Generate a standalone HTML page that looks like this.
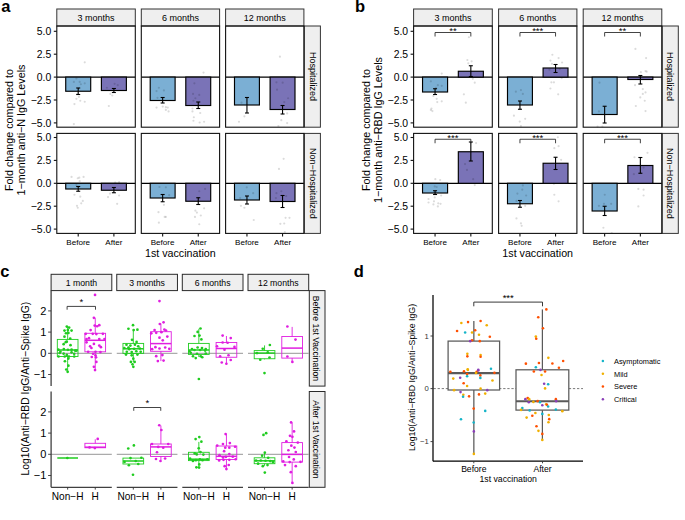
<!DOCTYPE html>
<html><head><meta charset="utf-8"><style>
html,body{margin:0;padding:0;background:#fff;width:685px;height:520px;overflow:hidden}
svg{display:block}
text{font-family:"Liberation Sans", sans-serif}
</style></head><body>
<svg width="685" height="520" viewBox="0 0 685 520">
<rect x="56.80" y="9.00" width="78.50" height="17.00" fill="#efefef" stroke="#333" stroke-width="1.0" />
<text x="96.05" y="21.00" font-size="9.0" text-anchor="middle" fill="#000" font-weight="normal" >3 months</text>
<rect x="141.30" y="9.00" width="78.30" height="17.00" fill="#efefef" stroke="#333" stroke-width="1.0" />
<text x="180.45" y="21.00" font-size="9.0" text-anchor="middle" fill="#000" font-weight="normal" >6 months</text>
<rect x="225.60" y="9.00" width="78.30" height="17.00" fill="#efefef" stroke="#333" stroke-width="1.0" />
<text x="264.75" y="21.00" font-size="9.0" text-anchor="middle" fill="#000" font-weight="normal" >12 months</text>
<rect x="304.30" y="26.00" width="16.10" height="101.20" fill="#efefef" stroke="#333" stroke-width="1.0" />
<text x="309.50" y="76.60" font-size="9.0" text-anchor="middle" fill="#000" font-weight="normal" transform="rotate(90 309.50 76.60)" >Hospitalized</text>
<rect x="304.30" y="133.40" width="16.10" height="100.00" fill="#efefef" stroke="#333" stroke-width="1.0" />
<text x="309.50" y="183.40" font-size="9.0" text-anchor="middle" fill="#000" font-weight="normal" transform="rotate(90 309.50 183.40)" >Non−Hospitalized</text>
<line x1="56.80" y1="77.10" x2="135.30" y2="77.10" stroke="#000" stroke-width="1.15" />
<rect x="65.72" y="77.10" width="24.98" height="14.15" fill="#7bafd4" stroke="#000" stroke-width="1.15" />
<rect x="101.40" y="77.10" width="24.98" height="13.40" fill="#7a73b7" stroke="#000" stroke-width="1.15" />
<circle cx="84.74" cy="62.31" r="1.1" fill="#000" fill-opacity="0.14"/>
<circle cx="73.86" cy="81.92" r="1.1" fill="#000" fill-opacity="0.14"/>
<circle cx="79.69" cy="81.92" r="1.1" fill="#000" fill-opacity="0.14"/>
<circle cx="84.74" cy="83.28" r="1.1" fill="#000" fill-opacity="0.14"/>
<circle cx="80.85" cy="84.25" r="1.1" fill="#000" fill-opacity="0.14"/>
<circle cx="77.36" cy="93.96" r="1.1" fill="#000" fill-opacity="0.14"/>
<circle cx="78.91" cy="96.87" r="1.1" fill="#000" fill-opacity="0.14"/>
<circle cx="76.39" cy="98.82" r="1.1" fill="#000" fill-opacity="0.14"/>
<circle cx="80.27" cy="100.76" r="1.1" fill="#000" fill-opacity="0.14"/>
<circle cx="84.74" cy="101.73" r="1.1" fill="#000" fill-opacity="0.14"/>
<circle cx="74.45" cy="104.06" r="1.1" fill="#000" fill-opacity="0.14"/>
<circle cx="73.86" cy="124.06" r="1.1" fill="#000" fill-opacity="0.14"/>
<circle cx="114.64" cy="83.86" r="1.1" fill="#000" fill-opacity="0.14"/>
<circle cx="117.75" cy="85.22" r="1.1" fill="#000" fill-opacity="0.14"/>
<circle cx="110.37" cy="93.96" r="1.1" fill="#000" fill-opacity="0.14"/>
<circle cx="112.31" cy="95.51" r="1.1" fill="#000" fill-opacity="0.14"/>
<circle cx="108.82" cy="106.00" r="1.1" fill="#000" fill-opacity="0.14"/>
<circle cx="106.87" cy="87.75" r="1.1" fill="#000" fill-opacity="0.14"/>
<circle cx="76.39" cy="78.43" r="1.1" fill="#000" fill-opacity="0.14"/>
<line x1="78.21" y1="88.00" x2="78.21" y2="94.50" stroke="#000" stroke-width="1.1" />
<line x1="76.21" y1="88.00" x2="80.21" y2="88.00" stroke="#000" stroke-width="1.1" />
<line x1="76.21" y1="94.50" x2="80.21" y2="94.50" stroke="#000" stroke-width="1.1" />
<line x1="113.89" y1="88.50" x2="113.89" y2="92.50" stroke="#000" stroke-width="1.1" />
<line x1="111.89" y1="88.50" x2="115.89" y2="88.50" stroke="#000" stroke-width="1.1" />
<line x1="111.89" y1="92.50" x2="115.89" y2="92.50" stroke="#000" stroke-width="1.1" />
<rect x="56.80" y="26.00" width="78.50" height="101.20" fill="none" stroke="#111111" stroke-width="1.1" />
<line x1="141.30" y1="77.10" x2="219.60" y2="77.10" stroke="#000" stroke-width="1.15" />
<rect x="150.20" y="77.10" width="24.91" height="23.40" fill="#7bafd4" stroke="#000" stroke-width="1.15" />
<rect x="185.79" y="77.10" width="24.91" height="28.40" fill="#7a73b7" stroke="#000" stroke-width="1.15" />
<circle cx="203.52" cy="72.60" r="1.1" fill="#000" fill-opacity="0.14"/>
<circle cx="158.86" cy="87.75" r="1.1" fill="#000" fill-opacity="0.14"/>
<circle cx="163.91" cy="90.47" r="1.1" fill="#000" fill-opacity="0.14"/>
<circle cx="156.53" cy="91.05" r="1.1" fill="#000" fill-opacity="0.14"/>
<circle cx="157.50" cy="97.84" r="1.1" fill="#000" fill-opacity="0.14"/>
<circle cx="156.53" cy="107.55" r="1.1" fill="#000" fill-opacity="0.14"/>
<circle cx="162.75" cy="106.58" r="1.1" fill="#000" fill-opacity="0.14"/>
<circle cx="165.85" cy="107.17" r="1.1" fill="#000" fill-opacity="0.14"/>
<circle cx="167.80" cy="107.55" r="1.1" fill="#000" fill-opacity="0.14"/>
<circle cx="165.85" cy="109.88" r="1.1" fill="#000" fill-opacity="0.14"/>
<circle cx="168.57" cy="111.44" r="1.1" fill="#000" fill-opacity="0.14"/>
<circle cx="194.40" cy="83.28" r="1.1" fill="#000" fill-opacity="0.14"/>
<circle cx="199.25" cy="94.93" r="1.1" fill="#000" fill-opacity="0.14"/>
<circle cx="193.04" cy="93.96" r="1.1" fill="#000" fill-opacity="0.14"/>
<circle cx="195.37" cy="98.23" r="1.1" fill="#000" fill-opacity="0.14"/>
<circle cx="193.43" cy="100.76" r="1.1" fill="#000" fill-opacity="0.14"/>
<circle cx="192.46" cy="108.52" r="1.1" fill="#000" fill-opacity="0.14"/>
<circle cx="200.22" cy="112.99" r="1.1" fill="#000" fill-opacity="0.14"/>
<circle cx="192.46" cy="111.44" r="1.1" fill="#000" fill-opacity="0.14"/>
<circle cx="193.82" cy="117.26" r="1.1" fill="#000" fill-opacity="0.14"/>
<circle cx="193.43" cy="120.76" r="1.1" fill="#000" fill-opacity="0.14"/>
<circle cx="199.64" cy="122.50" r="1.1" fill="#000" fill-opacity="0.14"/>
<circle cx="204.11" cy="121.73" r="1.1" fill="#000" fill-opacity="0.14"/>
<line x1="162.65" y1="97.50" x2="162.65" y2="103.00" stroke="#000" stroke-width="1.1" />
<line x1="160.65" y1="97.50" x2="164.65" y2="97.50" stroke="#000" stroke-width="1.1" />
<line x1="160.65" y1="103.00" x2="164.65" y2="103.00" stroke="#000" stroke-width="1.1" />
<line x1="198.25" y1="102.00" x2="198.25" y2="108.50" stroke="#000" stroke-width="1.1" />
<line x1="196.25" y1="102.00" x2="200.25" y2="102.00" stroke="#000" stroke-width="1.1" />
<line x1="196.25" y1="108.50" x2="200.25" y2="108.50" stroke="#000" stroke-width="1.1" />
<rect x="141.30" y="26.00" width="78.30" height="101.20" fill="none" stroke="#111111" stroke-width="1.1" />
<line x1="225.60" y1="77.10" x2="303.90" y2="77.10" stroke="#000" stroke-width="1.15" />
<rect x="234.50" y="77.10" width="24.91" height="27.90" fill="#7bafd4" stroke="#000" stroke-width="1.15" />
<rect x="270.09" y="77.10" width="24.91" height="32.40" fill="#7a73b7" stroke="#000" stroke-width="1.15" />
<circle cx="279.95" cy="56.68" r="1.1" fill="#000" fill-opacity="0.14"/>
<circle cx="241.50" cy="102.70" r="1.1" fill="#000" fill-opacity="0.14"/>
<circle cx="244.42" cy="116.29" r="1.1" fill="#000" fill-opacity="0.14"/>
<circle cx="238.98" cy="121.73" r="1.1" fill="#000" fill-opacity="0.14"/>
<circle cx="276.46" cy="82.31" r="1.1" fill="#000" fill-opacity="0.14"/>
<circle cx="282.67" cy="82.70" r="1.1" fill="#000" fill-opacity="0.14"/>
<circle cx="277.04" cy="89.69" r="1.1" fill="#000" fill-opacity="0.14"/>
<circle cx="288.11" cy="98.23" r="1.1" fill="#000" fill-opacity="0.14"/>
<circle cx="284.22" cy="102.12" r="1.1" fill="#000" fill-opacity="0.14"/>
<circle cx="287.14" cy="113.38" r="1.1" fill="#000" fill-opacity="0.14"/>
<circle cx="281.31" cy="120.17" r="1.1" fill="#000" fill-opacity="0.14"/>
<circle cx="287.14" cy="123.09" r="1.1" fill="#000" fill-opacity="0.14"/>
<circle cx="278.40" cy="126.00" r="1.1" fill="#000" fill-opacity="0.14"/>
<line x1="246.95" y1="97.50" x2="246.95" y2="113.00" stroke="#000" stroke-width="1.1" />
<line x1="244.95" y1="97.50" x2="248.95" y2="97.50" stroke="#000" stroke-width="1.1" />
<line x1="244.95" y1="113.00" x2="248.95" y2="113.00" stroke="#000" stroke-width="1.1" />
<line x1="282.55" y1="105.50" x2="282.55" y2="114.00" stroke="#000" stroke-width="1.1" />
<line x1="280.55" y1="105.50" x2="284.55" y2="105.50" stroke="#000" stroke-width="1.1" />
<line x1="280.55" y1="114.00" x2="284.55" y2="114.00" stroke="#000" stroke-width="1.1" />
<rect x="225.60" y="26.00" width="78.30" height="101.20" fill="none" stroke="#111111" stroke-width="1.1" />
<line x1="53.80" y1="31.30" x2="56.80" y2="31.30" stroke="#111111" stroke-width="1.1" />
<text x="51.30" y="35.00" font-size="10.4" text-anchor="end" fill="#000" font-weight="normal" >5.0</text>
<line x1="53.80" y1="54.20" x2="56.80" y2="54.20" stroke="#111111" stroke-width="1.1" />
<text x="51.30" y="57.90" font-size="10.4" text-anchor="end" fill="#000" font-weight="normal" >2.5</text>
<line x1="53.80" y1="77.10" x2="56.80" y2="77.10" stroke="#111111" stroke-width="1.1" />
<text x="51.30" y="80.80" font-size="10.4" text-anchor="end" fill="#000" font-weight="normal" >0.0</text>
<line x1="53.80" y1="100.00" x2="56.80" y2="100.00" stroke="#111111" stroke-width="1.1" />
<text x="51.30" y="103.70" font-size="10.4" text-anchor="end" fill="#000" font-weight="normal" >−2.5</text>
<line x1="53.80" y1="122.90" x2="56.80" y2="122.90" stroke="#111111" stroke-width="1.1" />
<text x="51.30" y="126.60" font-size="10.4" text-anchor="end" fill="#000" font-weight="normal" >−5.0</text>
<line x1="56.80" y1="183.30" x2="135.30" y2="183.30" stroke="#000" stroke-width="1.15" />
<rect x="65.72" y="183.30" width="24.98" height="5.70" fill="#7bafd4" stroke="#000" stroke-width="1.15" />
<rect x="101.40" y="183.30" width="24.98" height="6.95" fill="#7a73b7" stroke="#000" stroke-width="1.15" />
<circle cx="71.53" cy="176.88" r="1.1" fill="#000" fill-opacity="0.14"/>
<circle cx="79.30" cy="177.66" r="1.1" fill="#000" fill-opacity="0.14"/>
<circle cx="77.75" cy="178.24" r="1.1" fill="#000" fill-opacity="0.14"/>
<circle cx="83.57" cy="176.88" r="1.1" fill="#000" fill-opacity="0.14"/>
<circle cx="79.69" cy="181.16" r="1.1" fill="#000" fill-opacity="0.14"/>
<circle cx="74.45" cy="194.75" r="1.1" fill="#000" fill-opacity="0.14"/>
<circle cx="80.27" cy="196.69" r="1.1" fill="#000" fill-opacity="0.14"/>
<circle cx="82.80" cy="200.96" r="1.1" fill="#000" fill-opacity="0.14"/>
<circle cx="81.24" cy="203.29" r="1.1" fill="#000" fill-opacity="0.14"/>
<circle cx="76.97" cy="205.82" r="1.1" fill="#000" fill-opacity="0.14"/>
<circle cx="77.75" cy="207.76" r="1.1" fill="#000" fill-opacity="0.14"/>
<circle cx="76.39" cy="185.04" r="1.1" fill="#000" fill-opacity="0.14"/>
<circle cx="108.04" cy="197.08" r="1.1" fill="#000" fill-opacity="0.14"/>
<circle cx="109.98" cy="193.58" r="1.1" fill="#000" fill-opacity="0.14"/>
<circle cx="115.22" cy="182.51" r="1.1" fill="#000" fill-opacity="0.14"/>
<circle cx="119.11" cy="182.13" r="1.1" fill="#000" fill-opacity="0.14"/>
<circle cx="119.11" cy="195.52" r="1.1" fill="#000" fill-opacity="0.14"/>
<circle cx="117.17" cy="203.87" r="1.1" fill="#000" fill-opacity="0.14"/>
<line x1="78.21" y1="186.50" x2="78.21" y2="191.25" stroke="#000" stroke-width="1.1" />
<line x1="76.21" y1="186.50" x2="80.21" y2="186.50" stroke="#000" stroke-width="1.1" />
<line x1="76.21" y1="191.25" x2="80.21" y2="191.25" stroke="#000" stroke-width="1.1" />
<line x1="113.89" y1="187.50" x2="113.89" y2="192.75" stroke="#000" stroke-width="1.1" />
<line x1="111.89" y1="187.50" x2="115.89" y2="187.50" stroke="#000" stroke-width="1.1" />
<line x1="111.89" y1="192.75" x2="115.89" y2="192.75" stroke="#000" stroke-width="1.1" />
<rect x="56.80" y="133.40" width="78.50" height="100.00" fill="none" stroke="#111111" stroke-width="1.1" />
<line x1="141.30" y1="183.30" x2="219.60" y2="183.30" stroke="#000" stroke-width="1.15" />
<rect x="150.20" y="183.30" width="24.91" height="14.70" fill="#7bafd4" stroke="#000" stroke-width="1.15" />
<rect x="185.79" y="183.30" width="24.91" height="17.95" fill="#7a73b7" stroke="#000" stroke-width="1.15" />
<circle cx="163.91" cy="204.84" r="1.1" fill="#000" fill-opacity="0.14"/>
<circle cx="158.48" cy="212.22" r="1.1" fill="#000" fill-opacity="0.14"/>
<circle cx="164.69" cy="216.88" r="1.1" fill="#000" fill-opacity="0.14"/>
<circle cx="165.85" cy="216.88" r="1.1" fill="#000" fill-opacity="0.14"/>
<circle cx="158.86" cy="222.71" r="1.1" fill="#000" fill-opacity="0.14"/>
<circle cx="159.45" cy="186.98" r="1.1" fill="#000" fill-opacity="0.14"/>
<circle cx="165.85" cy="187.37" r="1.1" fill="#000" fill-opacity="0.14"/>
<circle cx="169.16" cy="195.14" r="1.1" fill="#000" fill-opacity="0.14"/>
<circle cx="195.37" cy="210.67" r="1.1" fill="#000" fill-opacity="0.14"/>
<circle cx="196.92" cy="212.61" r="1.1" fill="#000" fill-opacity="0.14"/>
<circle cx="200.81" cy="215.52" r="1.1" fill="#000" fill-opacity="0.14"/>
<circle cx="194.98" cy="216.88" r="1.1" fill="#000" fill-opacity="0.14"/>
<circle cx="204.11" cy="208.34" r="1.1" fill="#000" fill-opacity="0.14"/>
<circle cx="199.25" cy="224.26" r="1.1" fill="#000" fill-opacity="0.14"/>
<circle cx="199.25" cy="191.25" r="1.1" fill="#000" fill-opacity="0.14"/>
<circle cx="205.08" cy="188.92" r="1.1" fill="#000" fill-opacity="0.14"/>
<line x1="162.65" y1="194.50" x2="162.65" y2="201.75" stroke="#000" stroke-width="1.1" />
<line x1="160.65" y1="194.50" x2="164.65" y2="194.50" stroke="#000" stroke-width="1.1" />
<line x1="160.65" y1="201.75" x2="164.65" y2="201.75" stroke="#000" stroke-width="1.1" />
<line x1="198.25" y1="197.75" x2="198.25" y2="204.50" stroke="#000" stroke-width="1.1" />
<line x1="196.25" y1="197.75" x2="200.25" y2="197.75" stroke="#000" stroke-width="1.1" />
<line x1="196.25" y1="204.50" x2="200.25" y2="204.50" stroke="#000" stroke-width="1.1" />
<rect x="141.30" y="133.40" width="78.30" height="100.00" fill="none" stroke="#111111" stroke-width="1.1" />
<line x1="225.60" y1="183.30" x2="303.90" y2="183.30" stroke="#000" stroke-width="1.15" />
<rect x="234.50" y="183.30" width="24.91" height="16.70" fill="#7bafd4" stroke="#000" stroke-width="1.15" />
<rect x="270.09" y="183.30" width="24.91" height="18.20" fill="#7a73b7" stroke="#000" stroke-width="1.15" />
<circle cx="283.64" cy="158.83" r="1.1" fill="#000" fill-opacity="0.14"/>
<circle cx="278.98" cy="168.92" r="1.1" fill="#000" fill-opacity="0.14"/>
<circle cx="240.92" cy="205.82" r="1.1" fill="#000" fill-opacity="0.14"/>
<circle cx="244.42" cy="207.76" r="1.1" fill="#000" fill-opacity="0.14"/>
<circle cx="253.74" cy="219.99" r="1.1" fill="#000" fill-opacity="0.14"/>
<circle cx="246.75" cy="187.37" r="1.1" fill="#000" fill-opacity="0.14"/>
<circle cx="253.16" cy="193.19" r="1.1" fill="#000" fill-opacity="0.14"/>
<circle cx="240.15" cy="198.05" r="1.1" fill="#000" fill-opacity="0.14"/>
<circle cx="281.31" cy="191.25" r="1.1" fill="#000" fill-opacity="0.14"/>
<circle cx="276.46" cy="193.19" r="1.1" fill="#000" fill-opacity="0.14"/>
<circle cx="275.87" cy="198.05" r="1.1" fill="#000" fill-opacity="0.14"/>
<circle cx="286.17" cy="196.11" r="1.1" fill="#000" fill-opacity="0.14"/>
<circle cx="285.58" cy="217.85" r="1.1" fill="#000" fill-opacity="0.14"/>
<circle cx="289.47" cy="217.85" r="1.1" fill="#000" fill-opacity="0.14"/>
<circle cx="280.34" cy="223.87" r="1.1" fill="#000" fill-opacity="0.14"/>
<circle cx="284.22" cy="223.49" r="1.1" fill="#000" fill-opacity="0.14"/>
<circle cx="284.81" cy="232.03" r="1.1" fill="#000" fill-opacity="0.14"/>
<line x1="246.95" y1="196.00" x2="246.95" y2="204.00" stroke="#000" stroke-width="1.1" />
<line x1="244.95" y1="196.00" x2="248.95" y2="196.00" stroke="#000" stroke-width="1.1" />
<line x1="244.95" y1="204.00" x2="248.95" y2="204.00" stroke="#000" stroke-width="1.1" />
<line x1="282.55" y1="195.50" x2="282.55" y2="207.50" stroke="#000" stroke-width="1.1" />
<line x1="280.55" y1="195.50" x2="284.55" y2="195.50" stroke="#000" stroke-width="1.1" />
<line x1="280.55" y1="207.50" x2="284.55" y2="207.50" stroke="#000" stroke-width="1.1" />
<rect x="225.60" y="133.40" width="78.30" height="100.00" fill="none" stroke="#111111" stroke-width="1.1" />
<line x1="53.80" y1="137.50" x2="56.80" y2="137.50" stroke="#111111" stroke-width="1.1" />
<text x="51.30" y="141.20" font-size="10.4" text-anchor="end" fill="#000" font-weight="normal" >5.0</text>
<line x1="53.80" y1="160.40" x2="56.80" y2="160.40" stroke="#111111" stroke-width="1.1" />
<text x="51.30" y="164.10" font-size="10.4" text-anchor="end" fill="#000" font-weight="normal" >2.5</text>
<line x1="53.80" y1="183.30" x2="56.80" y2="183.30" stroke="#111111" stroke-width="1.1" />
<text x="51.30" y="187.00" font-size="10.4" text-anchor="end" fill="#000" font-weight="normal" >0.0</text>
<line x1="53.80" y1="206.20" x2="56.80" y2="206.20" stroke="#111111" stroke-width="1.1" />
<text x="51.30" y="209.90" font-size="10.4" text-anchor="end" fill="#000" font-weight="normal" >−2.5</text>
<line x1="53.80" y1="229.10" x2="56.80" y2="229.10" stroke="#111111" stroke-width="1.1" />
<text x="51.30" y="232.80" font-size="10.4" text-anchor="end" fill="#000" font-weight="normal" >−5.0</text>
<text x="78.21" y="245.00" font-size="8.1" text-anchor="middle" fill="#000" font-weight="normal" >Before</text>
<text x="113.89" y="245.00" font-size="8.1" text-anchor="middle" fill="#000" font-weight="normal" >After</text>
<line x1="78.21" y1="233.40" x2="78.21" y2="236.40" stroke="#111111" stroke-width="1.1" />
<line x1="113.89" y1="233.40" x2="113.89" y2="236.40" stroke="#111111" stroke-width="1.1" />
<text x="162.65" y="245.00" font-size="8.1" text-anchor="middle" fill="#000" font-weight="normal" >Before</text>
<text x="198.25" y="245.00" font-size="8.1" text-anchor="middle" fill="#000" font-weight="normal" >After</text>
<line x1="162.65" y1="233.40" x2="162.65" y2="236.40" stroke="#111111" stroke-width="1.1" />
<line x1="198.25" y1="233.40" x2="198.25" y2="236.40" stroke="#111111" stroke-width="1.1" />
<text x="246.95" y="245.00" font-size="8.1" text-anchor="middle" fill="#000" font-weight="normal" >Before</text>
<text x="282.55" y="245.00" font-size="8.1" text-anchor="middle" fill="#000" font-weight="normal" >After</text>
<line x1="246.95" y1="233.40" x2="246.95" y2="236.40" stroke="#111111" stroke-width="1.1" />
<line x1="282.55" y1="233.40" x2="282.55" y2="236.40" stroke="#111111" stroke-width="1.1" />
<text x="180.35" y="257.00" font-size="10.7" text-anchor="middle" fill="#000" font-weight="normal" >1st vaccination</text>
<text x="13.10" y="130.00" font-size="10.75" text-anchor="middle" fill="#000" font-weight="normal" transform="rotate(-90 13.10 130.00)" >Fold change compared to</text>
<text x="25.10" y="130.00" font-size="10.75" text-anchor="middle" fill="#000" font-weight="normal" transform="rotate(-90 25.10 130.00)" >1−month anti−N IgG Levels</text>
<rect x="413.60" y="9.00" width="78.70" height="17.00" fill="#efefef" stroke="#333" stroke-width="1.0" />
<text x="452.95" y="21.00" font-size="9.0" text-anchor="middle" fill="#000" font-weight="normal" >3 months</text>
<rect x="498.60" y="9.00" width="78.30" height="17.00" fill="#efefef" stroke="#333" stroke-width="1.0" />
<text x="537.75" y="21.00" font-size="9.0" text-anchor="middle" fill="#000" font-weight="normal" >6 months</text>
<rect x="583.20" y="9.00" width="78.60" height="17.00" fill="#efefef" stroke="#333" stroke-width="1.0" />
<text x="622.50" y="21.00" font-size="9.0" text-anchor="middle" fill="#000" font-weight="normal" >12 months</text>
<rect x="662.20" y="26.00" width="16.10" height="101.20" fill="#efefef" stroke="#333" stroke-width="1.0" />
<text x="667.40" y="76.60" font-size="9.0" text-anchor="middle" fill="#000" font-weight="normal" transform="rotate(90 667.40 76.60)" >Hospitalized</text>
<rect x="662.20" y="133.40" width="16.10" height="100.00" fill="#efefef" stroke="#333" stroke-width="1.0" />
<text x="667.40" y="183.40" font-size="9.0" text-anchor="middle" fill="#000" font-weight="normal" transform="rotate(90 667.40 183.40)" >Non−Hospitalized</text>
<line x1="413.60" y1="77.10" x2="492.30" y2="77.10" stroke="#000" stroke-width="1.15" />
<rect x="422.54" y="77.10" width="25.04" height="14.90" fill="#7bafd4" stroke="#000" stroke-width="1.15" />
<rect x="458.32" y="71.25" width="25.04" height="5.85" fill="#7a73b7" stroke="#000" stroke-width="1.15" />
<circle cx="468.92" cy="37.26" r="1.1" fill="#000" fill-opacity="0.14"/>
<circle cx="467.37" cy="59.98" r="1.1" fill="#000" fill-opacity="0.14"/>
<circle cx="471.64" cy="61.34" r="1.1" fill="#000" fill-opacity="0.14"/>
<circle cx="468.34" cy="63.28" r="1.1" fill="#000" fill-opacity="0.14"/>
<circle cx="441.74" cy="73.57" r="1.1" fill="#000" fill-opacity="0.14"/>
<circle cx="430.86" cy="81.34" r="1.1" fill="#000" fill-opacity="0.14"/>
<circle cx="437.85" cy="85.22" r="1.1" fill="#000" fill-opacity="0.14"/>
<circle cx="441.74" cy="85.81" r="1.1" fill="#000" fill-opacity="0.14"/>
<circle cx="435.91" cy="87.75" r="1.1" fill="#000" fill-opacity="0.14"/>
<circle cx="433.39" cy="95.90" r="1.1" fill="#000" fill-opacity="0.14"/>
<circle cx="436.69" cy="98.82" r="1.1" fill="#000" fill-opacity="0.14"/>
<circle cx="437.27" cy="102.12" r="1.1" fill="#000" fill-opacity="0.14"/>
<circle cx="441.74" cy="101.34" r="1.1" fill="#000" fill-opacity="0.14"/>
<circle cx="463.87" cy="94.35" r="1.1" fill="#000" fill-opacity="0.14"/>
<circle cx="465.82" cy="102.70" r="1.1" fill="#000" fill-opacity="0.14"/>
<circle cx="474.75" cy="82.70" r="1.1" fill="#000" fill-opacity="0.14"/>
<circle cx="472.81" cy="78.82" r="1.1" fill="#000" fill-opacity="0.14"/>
<circle cx="431.45" cy="108.52" r="1.1" fill="#000" fill-opacity="0.14"/>
<circle cx="432.42" cy="111.05" r="1.1" fill="#000" fill-opacity="0.14"/>
<circle cx="430.86" cy="109.88" r="1.1" fill="#000" fill-opacity="0.14"/>
<line x1="435.06" y1="88.75" x2="435.06" y2="94.50" stroke="#000" stroke-width="1.1" />
<line x1="433.06" y1="88.75" x2="437.06" y2="88.75" stroke="#000" stroke-width="1.1" />
<line x1="433.06" y1="94.50" x2="437.06" y2="94.50" stroke="#000" stroke-width="1.1" />
<line x1="470.84" y1="65.75" x2="470.84" y2="76.50" stroke="#000" stroke-width="1.1" />
<line x1="468.84" y1="65.75" x2="472.84" y2="65.75" stroke="#000" stroke-width="1.1" />
<line x1="468.84" y1="76.50" x2="472.84" y2="76.50" stroke="#000" stroke-width="1.1" />
<path d="M435.06,36.50V32.50H470.84V36.50" fill="none" stroke="#222" stroke-width="0.85"/>
<text x="452.95" y="34.20" font-size="9.6" text-anchor="middle" fill="#000" font-weight="normal" >**</text>
<rect x="413.60" y="26.00" width="78.70" height="101.20" fill="none" stroke="#111111" stroke-width="1.1" />
<line x1="498.60" y1="77.10" x2="576.90" y2="77.10" stroke="#000" stroke-width="1.15" />
<rect x="507.50" y="77.10" width="24.91" height="27.90" fill="#7bafd4" stroke="#000" stroke-width="1.15" />
<rect x="543.09" y="68.00" width="24.91" height="9.10" fill="#7a73b7" stroke="#000" stroke-width="1.15" />
<circle cx="552.37" cy="54.74" r="1.1" fill="#000" fill-opacity="0.14"/>
<circle cx="558.58" cy="58.04" r="1.1" fill="#000" fill-opacity="0.14"/>
<circle cx="550.43" cy="60.56" r="1.1" fill="#000" fill-opacity="0.14"/>
<circle cx="551.98" cy="63.86" r="1.1" fill="#000" fill-opacity="0.14"/>
<circle cx="562.08" cy="62.50" r="1.1" fill="#000" fill-opacity="0.14"/>
<circle cx="559.75" cy="69.11" r="1.1" fill="#000" fill-opacity="0.14"/>
<circle cx="549.46" cy="69.69" r="1.1" fill="#000" fill-opacity="0.14"/>
<circle cx="551.40" cy="82.31" r="1.1" fill="#000" fill-opacity="0.14"/>
<circle cx="553.92" cy="82.31" r="1.1" fill="#000" fill-opacity="0.14"/>
<circle cx="550.43" cy="88.52" r="1.1" fill="#000" fill-opacity="0.14"/>
<circle cx="558.19" cy="94.35" r="1.1" fill="#000" fill-opacity="0.14"/>
<circle cx="561.69" cy="78.04" r="1.1" fill="#000" fill-opacity="0.14"/>
<circle cx="515.86" cy="91.63" r="1.1" fill="#000" fill-opacity="0.14"/>
<circle cx="520.91" cy="90.08" r="1.1" fill="#000" fill-opacity="0.14"/>
<circle cx="522.85" cy="93.96" r="1.1" fill="#000" fill-opacity="0.14"/>
<circle cx="513.92" cy="115.71" r="1.1" fill="#000" fill-opacity="0.14"/>
<circle cx="525.18" cy="118.82" r="1.1" fill="#000" fill-opacity="0.14"/>
<circle cx="519.75" cy="121.53" r="1.1" fill="#000" fill-opacity="0.14"/>
<circle cx="520.91" cy="126.00" r="1.1" fill="#000" fill-opacity="0.14"/>
<line x1="519.95" y1="101.00" x2="519.95" y2="109.25" stroke="#000" stroke-width="1.1" />
<line x1="517.95" y1="101.00" x2="521.95" y2="101.00" stroke="#000" stroke-width="1.1" />
<line x1="517.95" y1="109.25" x2="521.95" y2="109.25" stroke="#000" stroke-width="1.1" />
<line x1="555.55" y1="64.50" x2="555.55" y2="72.50" stroke="#000" stroke-width="1.1" />
<line x1="553.55" y1="64.50" x2="557.55" y2="64.50" stroke="#000" stroke-width="1.1" />
<line x1="553.55" y1="72.50" x2="557.55" y2="72.50" stroke="#000" stroke-width="1.1" />
<path d="M519.95,36.50V32.50H555.55V36.50" fill="none" stroke="#222" stroke-width="0.85"/>
<text x="537.75" y="34.20" font-size="9.6" text-anchor="middle" fill="#000" font-weight="normal" >***</text>
<rect x="498.60" y="26.00" width="78.30" height="101.20" fill="none" stroke="#111111" stroke-width="1.1" />
<line x1="583.20" y1="77.10" x2="661.80" y2="77.10" stroke="#000" stroke-width="1.15" />
<rect x="592.13" y="77.10" width="25.01" height="37.40" fill="#7bafd4" stroke="#000" stroke-width="1.15" />
<rect x="627.86" y="77.10" width="25.01" height="2.40" fill="#7a73b7" stroke="#000" stroke-width="1.15" />
<circle cx="635.43" cy="48.91" r="1.1" fill="#000" fill-opacity="0.14"/>
<circle cx="646.11" cy="58.04" r="1.1" fill="#000" fill-opacity="0.14"/>
<circle cx="640.86" cy="72.21" r="1.1" fill="#000" fill-opacity="0.14"/>
<circle cx="645.52" cy="71.05" r="1.1" fill="#000" fill-opacity="0.14"/>
<circle cx="646.69" cy="71.63" r="1.1" fill="#000" fill-opacity="0.14"/>
<circle cx="635.04" cy="85.22" r="1.1" fill="#000" fill-opacity="0.14"/>
<circle cx="642.81" cy="89.11" r="1.1" fill="#000" fill-opacity="0.14"/>
<circle cx="645.52" cy="92.41" r="1.1" fill="#000" fill-opacity="0.14"/>
<circle cx="642.81" cy="93.96" r="1.1" fill="#000" fill-opacity="0.14"/>
<circle cx="640.28" cy="97.46" r="1.1" fill="#000" fill-opacity="0.14"/>
<circle cx="644.75" cy="100.76" r="1.1" fill="#000" fill-opacity="0.14"/>
<circle cx="635.82" cy="106.00" r="1.1" fill="#000" fill-opacity="0.14"/>
<circle cx="645.52" cy="111.05" r="1.1" fill="#000" fill-opacity="0.14"/>
<circle cx="599.50" cy="82.70" r="1.1" fill="#000" fill-opacity="0.14"/>
<circle cx="598.92" cy="111.44" r="1.1" fill="#000" fill-opacity="0.14"/>
<circle cx="597.56" cy="126.58" r="1.1" fill="#000" fill-opacity="0.14"/>
<circle cx="602.42" cy="126.58" r="1.1" fill="#000" fill-opacity="0.14"/>
<line x1="604.64" y1="106.25" x2="604.64" y2="123.00" stroke="#000" stroke-width="1.1" />
<line x1="602.64" y1="106.25" x2="606.64" y2="106.25" stroke="#000" stroke-width="1.1" />
<line x1="602.64" y1="123.00" x2="606.64" y2="123.00" stroke="#000" stroke-width="1.1" />
<line x1="640.36" y1="75.50" x2="640.36" y2="84.00" stroke="#000" stroke-width="1.1" />
<line x1="638.36" y1="75.50" x2="642.36" y2="75.50" stroke="#000" stroke-width="1.1" />
<line x1="638.36" y1="84.00" x2="642.36" y2="84.00" stroke="#000" stroke-width="1.1" />
<path d="M604.64,36.50V32.50H640.36V36.50" fill="none" stroke="#222" stroke-width="0.85"/>
<text x="622.50" y="34.20" font-size="9.6" text-anchor="middle" fill="#000" font-weight="normal" >**</text>
<rect x="583.20" y="26.00" width="78.60" height="101.20" fill="none" stroke="#111111" stroke-width="1.1" />
<line x1="410.60" y1="31.30" x2="413.60" y2="31.30" stroke="#111111" stroke-width="1.1" />
<text x="408.10" y="35.00" font-size="10.4" text-anchor="end" fill="#000" font-weight="normal" >5.0</text>
<line x1="410.60" y1="54.20" x2="413.60" y2="54.20" stroke="#111111" stroke-width="1.1" />
<text x="408.10" y="57.90" font-size="10.4" text-anchor="end" fill="#000" font-weight="normal" >2.5</text>
<line x1="410.60" y1="77.10" x2="413.60" y2="77.10" stroke="#111111" stroke-width="1.1" />
<text x="408.10" y="80.80" font-size="10.4" text-anchor="end" fill="#000" font-weight="normal" >0.0</text>
<line x1="410.60" y1="100.00" x2="413.60" y2="100.00" stroke="#111111" stroke-width="1.1" />
<text x="408.10" y="103.70" font-size="10.4" text-anchor="end" fill="#000" font-weight="normal" >−2.5</text>
<line x1="410.60" y1="122.90" x2="413.60" y2="122.90" stroke="#111111" stroke-width="1.1" />
<text x="408.10" y="126.60" font-size="10.4" text-anchor="end" fill="#000" font-weight="normal" >−5.0</text>
<line x1="413.60" y1="183.30" x2="492.30" y2="183.30" stroke="#000" stroke-width="1.15" />
<rect x="422.54" y="183.30" width="25.04" height="9.70" fill="#7bafd4" stroke="#000" stroke-width="1.15" />
<rect x="458.32" y="151.75" width="25.04" height="31.55" fill="#7a73b7" stroke="#000" stroke-width="1.15" />
<circle cx="435.33" cy="179.21" r="1.1" fill="#000" fill-opacity="0.14"/>
<circle cx="440.18" cy="179.99" r="1.1" fill="#000" fill-opacity="0.14"/>
<circle cx="476.11" cy="143.10" r="1.1" fill="#000" fill-opacity="0.14"/>
<circle cx="465.04" cy="164.07" r="1.1" fill="#000" fill-opacity="0.14"/>
<circle cx="466.98" cy="169.89" r="1.1" fill="#000" fill-opacity="0.14"/>
<circle cx="473.19" cy="179.21" r="1.1" fill="#000" fill-opacity="0.14"/>
<circle cx="474.75" cy="185.04" r="1.1" fill="#000" fill-opacity="0.14"/>
<circle cx="434.75" cy="186.40" r="1.1" fill="#000" fill-opacity="0.14"/>
<circle cx="436.69" cy="186.98" r="1.1" fill="#000" fill-opacity="0.14"/>
<circle cx="441.16" cy="195.52" r="1.1" fill="#000" fill-opacity="0.14"/>
<circle cx="434.75" cy="197.47" r="1.1" fill="#000" fill-opacity="0.14"/>
<circle cx="428.53" cy="199.02" r="1.1" fill="#000" fill-opacity="0.14"/>
<circle cx="433.97" cy="201.35" r="1.1" fill="#000" fill-opacity="0.14"/>
<circle cx="428.53" cy="202.51" r="1.1" fill="#000" fill-opacity="0.14"/>
<circle cx="433.39" cy="204.46" r="1.1" fill="#000" fill-opacity="0.14"/>
<circle cx="438.24" cy="203.29" r="1.1" fill="#000" fill-opacity="0.14"/>
<circle cx="440.57" cy="203.87" r="1.1" fill="#000" fill-opacity="0.14"/>
<circle cx="437.85" cy="206.40" r="1.1" fill="#000" fill-opacity="0.14"/>
<line x1="435.06" y1="190.75" x2="435.06" y2="194.50" stroke="#000" stroke-width="1.1" />
<line x1="433.06" y1="190.75" x2="437.06" y2="190.75" stroke="#000" stroke-width="1.1" />
<line x1="433.06" y1="194.50" x2="437.06" y2="194.50" stroke="#000" stroke-width="1.1" />
<line x1="470.84" y1="142.00" x2="470.84" y2="161.00" stroke="#000" stroke-width="1.1" />
<line x1="468.84" y1="142.00" x2="472.84" y2="142.00" stroke="#000" stroke-width="1.1" />
<line x1="468.84" y1="161.00" x2="472.84" y2="161.00" stroke="#000" stroke-width="1.1" />
<path d="M435.06,143.25V139.25H470.84V143.25" fill="none" stroke="#222" stroke-width="0.85"/>
<text x="452.95" y="140.95" font-size="9.6" text-anchor="middle" fill="#000" font-weight="normal" >***</text>
<rect x="413.60" y="133.40" width="78.70" height="100.00" fill="none" stroke="#111111" stroke-width="1.1" />
<line x1="498.60" y1="183.30" x2="576.90" y2="183.30" stroke="#000" stroke-width="1.15" />
<rect x="507.50" y="183.30" width="24.91" height="20.45" fill="#7bafd4" stroke="#000" stroke-width="1.15" />
<rect x="543.09" y="163.25" width="24.91" height="20.05" fill="#7a73b7" stroke="#000" stroke-width="1.15" />
<circle cx="557.81" cy="137.27" r="1.1" fill="#000" fill-opacity="0.14"/>
<circle cx="558.58" cy="146.20" r="1.1" fill="#000" fill-opacity="0.14"/>
<circle cx="554.31" cy="148.15" r="1.1" fill="#000" fill-opacity="0.14"/>
<circle cx="561.11" cy="159.80" r="1.1" fill="#000" fill-opacity="0.14"/>
<circle cx="553.92" cy="183.87" r="1.1" fill="#000" fill-opacity="0.14"/>
<circle cx="554.31" cy="194.75" r="1.1" fill="#000" fill-opacity="0.14"/>
<circle cx="558.58" cy="201.35" r="1.1" fill="#000" fill-opacity="0.14"/>
<circle cx="522.85" cy="185.43" r="1.1" fill="#000" fill-opacity="0.14"/>
<circle cx="522.27" cy="189.70" r="1.1" fill="#000" fill-opacity="0.14"/>
<circle cx="517.42" cy="193.58" r="1.1" fill="#000" fill-opacity="0.14"/>
<circle cx="526.16" cy="195.52" r="1.1" fill="#000" fill-opacity="0.14"/>
<circle cx="516.45" cy="200.96" r="1.1" fill="#000" fill-opacity="0.14"/>
<circle cx="525.18" cy="205.82" r="1.1" fill="#000" fill-opacity="0.14"/>
<circle cx="516.45" cy="218.44" r="1.1" fill="#000" fill-opacity="0.14"/>
<circle cx="520.91" cy="223.29" r="1.1" fill="#000" fill-opacity="0.14"/>
<circle cx="521.69" cy="225.82" r="1.1" fill="#000" fill-opacity="0.14"/>
<line x1="519.95" y1="200.50" x2="519.95" y2="207.25" stroke="#000" stroke-width="1.1" />
<line x1="517.95" y1="200.50" x2="521.95" y2="200.50" stroke="#000" stroke-width="1.1" />
<line x1="517.95" y1="207.25" x2="521.95" y2="207.25" stroke="#000" stroke-width="1.1" />
<line x1="555.55" y1="157.25" x2="555.55" y2="169.50" stroke="#000" stroke-width="1.1" />
<line x1="553.55" y1="157.25" x2="557.55" y2="157.25" stroke="#000" stroke-width="1.1" />
<line x1="553.55" y1="169.50" x2="557.55" y2="169.50" stroke="#000" stroke-width="1.1" />
<path d="M519.95,143.25V139.25H555.55V143.25" fill="none" stroke="#222" stroke-width="0.85"/>
<text x="537.75" y="140.95" font-size="9.6" text-anchor="middle" fill="#000" font-weight="normal" >***</text>
<rect x="498.60" y="133.40" width="78.30" height="100.00" fill="none" stroke="#111111" stroke-width="1.1" />
<line x1="583.20" y1="183.30" x2="661.80" y2="183.30" stroke="#000" stroke-width="1.15" />
<rect x="592.13" y="183.30" width="25.01" height="27.70" fill="#7bafd4" stroke="#000" stroke-width="1.15" />
<rect x="627.86" y="165.50" width="25.01" height="17.80" fill="#7a73b7" stroke="#000" stroke-width="1.15" />
<circle cx="647.47" cy="152.81" r="1.1" fill="#000" fill-opacity="0.14"/>
<circle cx="634.46" cy="157.27" r="1.1" fill="#000" fill-opacity="0.14"/>
<circle cx="643.58" cy="167.56" r="1.1" fill="#000" fill-opacity="0.14"/>
<circle cx="633.87" cy="174.17" r="1.1" fill="#000" fill-opacity="0.14"/>
<circle cx="638.34" cy="188.92" r="1.1" fill="#000" fill-opacity="0.14"/>
<circle cx="643.58" cy="189.70" r="1.1" fill="#000" fill-opacity="0.14"/>
<circle cx="643.58" cy="195.52" r="1.1" fill="#000" fill-opacity="0.14"/>
<circle cx="638.34" cy="206.40" r="1.1" fill="#000" fill-opacity="0.14"/>
<circle cx="604.75" cy="194.75" r="1.1" fill="#000" fill-opacity="0.14"/>
<circle cx="598.92" cy="205.82" r="1.1" fill="#000" fill-opacity="0.14"/>
<circle cx="603.97" cy="203.87" r="1.1" fill="#000" fill-opacity="0.14"/>
<circle cx="611.16" cy="203.87" r="1.1" fill="#000" fill-opacity="0.14"/>
<circle cx="603.39" cy="227.76" r="1.1" fill="#000" fill-opacity="0.14"/>
<circle cx="611.74" cy="233.00" r="1.1" fill="#000" fill-opacity="0.14"/>
<line x1="604.64" y1="206.25" x2="604.64" y2="215.50" stroke="#000" stroke-width="1.1" />
<line x1="602.64" y1="206.25" x2="606.64" y2="206.25" stroke="#000" stroke-width="1.1" />
<line x1="602.64" y1="215.50" x2="606.64" y2="215.50" stroke="#000" stroke-width="1.1" />
<line x1="640.36" y1="157.50" x2="640.36" y2="173.25" stroke="#000" stroke-width="1.1" />
<line x1="638.36" y1="157.50" x2="642.36" y2="157.50" stroke="#000" stroke-width="1.1" />
<line x1="638.36" y1="173.25" x2="642.36" y2="173.25" stroke="#000" stroke-width="1.1" />
<path d="M604.64,143.25V139.25H640.36V143.25" fill="none" stroke="#222" stroke-width="0.85"/>
<text x="622.50" y="140.95" font-size="9.6" text-anchor="middle" fill="#000" font-weight="normal" >***</text>
<rect x="583.20" y="133.40" width="78.60" height="100.00" fill="none" stroke="#111111" stroke-width="1.1" />
<line x1="410.60" y1="137.50" x2="413.60" y2="137.50" stroke="#111111" stroke-width="1.1" />
<text x="408.10" y="141.20" font-size="10.4" text-anchor="end" fill="#000" font-weight="normal" >5.0</text>
<line x1="410.60" y1="160.40" x2="413.60" y2="160.40" stroke="#111111" stroke-width="1.1" />
<text x="408.10" y="164.10" font-size="10.4" text-anchor="end" fill="#000" font-weight="normal" >2.5</text>
<line x1="410.60" y1="183.30" x2="413.60" y2="183.30" stroke="#111111" stroke-width="1.1" />
<text x="408.10" y="187.00" font-size="10.4" text-anchor="end" fill="#000" font-weight="normal" >0.0</text>
<line x1="410.60" y1="206.20" x2="413.60" y2="206.20" stroke="#111111" stroke-width="1.1" />
<text x="408.10" y="209.90" font-size="10.4" text-anchor="end" fill="#000" font-weight="normal" >−2.5</text>
<line x1="410.60" y1="229.10" x2="413.60" y2="229.10" stroke="#111111" stroke-width="1.1" />
<text x="408.10" y="232.80" font-size="10.4" text-anchor="end" fill="#000" font-weight="normal" >−5.0</text>
<text x="435.06" y="245.00" font-size="8.1" text-anchor="middle" fill="#000" font-weight="normal" >Before</text>
<text x="470.84" y="245.00" font-size="8.1" text-anchor="middle" fill="#000" font-weight="normal" >After</text>
<line x1="435.06" y1="233.40" x2="435.06" y2="236.40" stroke="#111111" stroke-width="1.1" />
<line x1="470.84" y1="233.40" x2="470.84" y2="236.40" stroke="#111111" stroke-width="1.1" />
<text x="519.95" y="245.00" font-size="8.1" text-anchor="middle" fill="#000" font-weight="normal" >Before</text>
<text x="555.55" y="245.00" font-size="8.1" text-anchor="middle" fill="#000" font-weight="normal" >After</text>
<line x1="519.95" y1="233.40" x2="519.95" y2="236.40" stroke="#111111" stroke-width="1.1" />
<line x1="555.55" y1="233.40" x2="555.55" y2="236.40" stroke="#111111" stroke-width="1.1" />
<text x="604.64" y="245.00" font-size="8.1" text-anchor="middle" fill="#000" font-weight="normal" >Before</text>
<text x="640.36" y="245.00" font-size="8.1" text-anchor="middle" fill="#000" font-weight="normal" >After</text>
<line x1="604.64" y1="233.40" x2="604.64" y2="236.40" stroke="#111111" stroke-width="1.1" />
<line x1="640.36" y1="233.40" x2="640.36" y2="236.40" stroke="#111111" stroke-width="1.1" />
<text x="537.70" y="257.00" font-size="10.7" text-anchor="middle" fill="#000" font-weight="normal" >1st vaccination</text>
<text x="370.10" y="130.00" font-size="10.75" text-anchor="middle" fill="#000" font-weight="normal" transform="rotate(-90 370.10 130.00)" >Fold change compared to</text>
<text x="382.10" y="130.00" font-size="10.75" text-anchor="middle" fill="#000" font-weight="normal" transform="rotate(-90 382.10 130.00)" >1−month anti−RBD IgG Levels</text>
<rect x="51.10" y="274.30" width="60.70" height="16.30" fill="#efefef" stroke="#2a2a2a" stroke-width="1.0" />
<text x="81.45" y="285.80" font-size="8.7" text-anchor="middle" fill="#000" font-weight="normal" >1 month</text>
<rect x="116.75" y="274.30" width="60.70" height="16.30" fill="#efefef" stroke="#2a2a2a" stroke-width="1.0" />
<text x="147.10" y="285.80" font-size="8.7" text-anchor="middle" fill="#000" font-weight="normal" >3 months</text>
<rect x="182.30" y="274.30" width="60.70" height="16.30" fill="#efefef" stroke="#2a2a2a" stroke-width="1.0" />
<text x="212.65" y="285.80" font-size="8.7" text-anchor="middle" fill="#000" font-weight="normal" >6 months</text>
<rect x="248.00" y="274.30" width="60.70" height="16.30" fill="#efefef" stroke="#2a2a2a" stroke-width="1.0" />
<text x="278.35" y="285.80" font-size="8.7" text-anchor="middle" fill="#000" font-weight="normal" >12 months</text>
<rect x="309.30" y="290.60" width="15.70" height="95.50" fill="#efefef" stroke="#2a2a2a" stroke-width="1.0" />
<text x="312.90" y="338.35" font-size="8.6" text-anchor="middle" fill="#000" font-weight="normal" transform="rotate(90 312.90 338.35)" >Before 1st Vaccination</text>
<rect x="309.30" y="391.50" width="15.70" height="95.80" fill="#efefef" stroke="#2a2a2a" stroke-width="1.0" />
<text x="312.90" y="439.40" font-size="8.6" text-anchor="middle" fill="#000" font-weight="normal" transform="rotate(90 312.90 439.40)" >After 1st Vaccination</text>
<line x1="51.10" y1="353.30" x2="111.80" y2="353.30" stroke="#8a8a8a" stroke-width="0.9" />
<line x1="116.75" y1="353.30" x2="177.45" y2="353.30" stroke="#8a8a8a" stroke-width="0.9" />
<line x1="182.30" y1="353.30" x2="243.00" y2="353.30" stroke="#8a8a8a" stroke-width="0.9" />
<line x1="248.00" y1="353.30" x2="308.70" y2="353.30" stroke="#8a8a8a" stroke-width="0.9" />
<line x1="51.10" y1="290.60" x2="51.10" y2="386.10" stroke="#404040" stroke-width="1.3" />
<line x1="48.10" y1="310.90" x2="51.10" y2="310.90" stroke="#333" stroke-width="0.9" />
<text x="46.30" y="314.80" font-size="11.0" text-anchor="end" fill="#000" font-weight="normal" >2</text>
<line x1="48.10" y1="332.10" x2="51.10" y2="332.10" stroke="#333" stroke-width="0.9" />
<text x="46.30" y="336.00" font-size="11.0" text-anchor="end" fill="#000" font-weight="normal" >1</text>
<line x1="48.10" y1="353.30" x2="51.10" y2="353.30" stroke="#333" stroke-width="0.9" />
<text x="46.30" y="357.20" font-size="11.0" text-anchor="end" fill="#000" font-weight="normal" >0</text>
<line x1="48.10" y1="374.50" x2="51.10" y2="374.50" stroke="#333" stroke-width="0.9" />
<text x="46.30" y="378.40" font-size="11.0" text-anchor="end" fill="#000" font-weight="normal" >−1</text>
<line x1="51.10" y1="454.30" x2="111.80" y2="454.30" stroke="#8a8a8a" stroke-width="0.9" />
<line x1="116.75" y1="454.30" x2="177.45" y2="454.30" stroke="#8a8a8a" stroke-width="0.9" />
<line x1="182.30" y1="454.30" x2="243.00" y2="454.30" stroke="#8a8a8a" stroke-width="0.9" />
<line x1="248.00" y1="454.30" x2="308.70" y2="454.30" stroke="#8a8a8a" stroke-width="0.9" />
<line x1="51.10" y1="391.50" x2="51.10" y2="487.30" stroke="#404040" stroke-width="1.3" />
<line x1="48.10" y1="411.90" x2="51.10" y2="411.90" stroke="#333" stroke-width="0.9" />
<text x="46.30" y="415.80" font-size="11.0" text-anchor="end" fill="#000" font-weight="normal" >2</text>
<line x1="48.10" y1="433.10" x2="51.10" y2="433.10" stroke="#333" stroke-width="0.9" />
<text x="46.30" y="437.00" font-size="11.0" text-anchor="end" fill="#000" font-weight="normal" >1</text>
<line x1="48.10" y1="454.30" x2="51.10" y2="454.30" stroke="#333" stroke-width="0.9" />
<text x="46.30" y="458.20" font-size="11.0" text-anchor="end" fill="#000" font-weight="normal" >0</text>
<line x1="48.10" y1="475.50" x2="51.10" y2="475.50" stroke="#333" stroke-width="0.9" />
<text x="46.30" y="479.40" font-size="11.0" text-anchor="end" fill="#000" font-weight="normal" >−1</text>
<line x1="51.10" y1="487.30" x2="111.80" y2="487.30" stroke="#404040" stroke-width="1.3" />
<line x1="67.65" y1="487.30" x2="67.65" y2="489.60" stroke="#333" stroke-width="0.9" />
<text x="67.65" y="500.00" font-size="10.1" text-anchor="middle" fill="#000" font-weight="normal" >Non−H</text>
<line x1="95.25" y1="487.30" x2="95.25" y2="489.60" stroke="#333" stroke-width="0.9" />
<text x="95.25" y="500.00" font-size="10.1" text-anchor="middle" fill="#000" font-weight="normal" >H</text>
<line x1="116.75" y1="487.30" x2="177.45" y2="487.30" stroke="#404040" stroke-width="1.3" />
<line x1="133.30" y1="487.30" x2="133.30" y2="489.60" stroke="#333" stroke-width="0.9" />
<text x="133.30" y="500.00" font-size="10.1" text-anchor="middle" fill="#000" font-weight="normal" >Non−H</text>
<line x1="160.90" y1="487.30" x2="160.90" y2="489.60" stroke="#333" stroke-width="0.9" />
<text x="160.90" y="500.00" font-size="10.1" text-anchor="middle" fill="#000" font-weight="normal" >H</text>
<line x1="182.30" y1="487.30" x2="243.00" y2="487.30" stroke="#404040" stroke-width="1.3" />
<line x1="198.85" y1="487.30" x2="198.85" y2="489.60" stroke="#333" stroke-width="0.9" />
<text x="198.85" y="500.00" font-size="10.1" text-anchor="middle" fill="#000" font-weight="normal" >Non−H</text>
<line x1="226.45" y1="487.30" x2="226.45" y2="489.60" stroke="#333" stroke-width="0.9" />
<text x="226.45" y="500.00" font-size="10.1" text-anchor="middle" fill="#000" font-weight="normal" >H</text>
<line x1="248.00" y1="487.30" x2="308.70" y2="487.30" stroke="#404040" stroke-width="1.3" />
<line x1="264.55" y1="487.30" x2="264.55" y2="489.60" stroke="#333" stroke-width="0.9" />
<text x="264.55" y="500.00" font-size="10.1" text-anchor="middle" fill="#000" font-weight="normal" >Non−H</text>
<line x1="292.15" y1="487.30" x2="292.15" y2="489.60" stroke="#333" stroke-width="0.9" />
<text x="292.15" y="500.00" font-size="10.1" text-anchor="middle" fill="#000" font-weight="normal" >H</text>
<text x="29.40" y="388.70" font-size="10.4" text-anchor="middle" fill="#000" font-weight="normal" transform="rotate(-90 29.40 388.70)" >Log10(Anti−RBD IgG/Anti−Spike IgG)</text>
<line x1="67.65" y1="339.40" x2="67.65" y2="326.30" stroke="#1fcc1f" stroke-width="0.9" />
<line x1="67.65" y1="356.50" x2="67.65" y2="371.90" stroke="#1fcc1f" stroke-width="0.9" />
<rect x="57.31" y="339.40" width="20.69" height="17.10" fill="none" stroke="#1fcc1f" stroke-width="0.9" />
<line x1="57.31" y1="350.00" x2="78.00" y2="350.00" stroke="#1fcc1f" stroke-width="1.5" />
<circle cx="66.81" cy="326.56" r="1.35" fill="#1fcc1f"/>
<circle cx="69.14" cy="327.62" r="1.35" fill="#1fcc1f"/>
<circle cx="64.49" cy="330.58" r="1.35" fill="#1fcc1f"/>
<circle cx="67.87" cy="330.05" r="1.35" fill="#1fcc1f"/>
<circle cx="71.58" cy="330.58" r="1.35" fill="#1fcc1f"/>
<circle cx="65.97" cy="333.23" r="1.35" fill="#1fcc1f"/>
<circle cx="68.40" cy="332.91" r="1.35" fill="#1fcc1f"/>
<circle cx="64.49" cy="336.72" r="1.35" fill="#1fcc1f"/>
<circle cx="70.20" cy="338.52" r="1.35" fill="#1fcc1f"/>
<circle cx="65.76" cy="342.22" r="1.35" fill="#1fcc1f"/>
<circle cx="63.64" cy="344.13" r="1.35" fill="#1fcc1f"/>
<circle cx="66.81" cy="341.69" r="1.35" fill="#1fcc1f"/>
<circle cx="70.52" cy="345.19" r="1.35" fill="#1fcc1f"/>
<circle cx="58.35" cy="349.63" r="1.35" fill="#1fcc1f"/>
<circle cx="63.85" cy="349.10" r="1.35" fill="#1fcc1f"/>
<circle cx="67.87" cy="349.84" r="1.35" fill="#1fcc1f"/>
<circle cx="71.58" cy="349.63" r="1.35" fill="#1fcc1f"/>
<circle cx="75.28" cy="350.69" r="1.35" fill="#1fcc1f"/>
<circle cx="59.62" cy="353.02" r="1.35" fill="#1fcc1f"/>
<circle cx="63.64" cy="353.65" r="1.35" fill="#1fcc1f"/>
<circle cx="66.81" cy="354.92" r="1.35" fill="#1fcc1f"/>
<circle cx="71.58" cy="352.28" r="1.35" fill="#1fcc1f"/>
<circle cx="74.22" cy="353.86" r="1.35" fill="#1fcc1f"/>
<circle cx="58.56" cy="356.51" r="1.35" fill="#1fcc1f"/>
<circle cx="64.70" cy="356.51" r="1.35" fill="#1fcc1f"/>
<circle cx="68.93" cy="356.51" r="1.35" fill="#1fcc1f"/>
<circle cx="74.22" cy="356.51" r="1.35" fill="#1fcc1f"/>
<circle cx="68.40" cy="358.62" r="1.35" fill="#1fcc1f"/>
<circle cx="64.91" cy="361.27" r="1.35" fill="#1fcc1f"/>
<circle cx="68.40" cy="365.71" r="1.35" fill="#1fcc1f"/>
<circle cx="66.29" cy="369.52" r="1.35" fill="#1fcc1f"/>
<circle cx="67.66" cy="371.85" r="1.35" fill="#1fcc1f"/>
<circle cx="60.47" cy="351.75" r="1.35" fill="#1fcc1f"/>
<circle cx="76.34" cy="350.69" r="1.35" fill="#1fcc1f"/>
<line x1="95.25" y1="333.30" x2="95.25" y2="317.80" stroke="#e01ee0" stroke-width="0.9" />
<line x1="95.25" y1="351.80" x2="95.25" y2="370.00" stroke="#e01ee0" stroke-width="0.9" />
<rect x="84.90" y="333.30" width="20.69" height="18.50" fill="none" stroke="#e01ee0" stroke-width="0.9" />
<line x1="84.90" y1="340.30" x2="105.59" y2="340.30" stroke="#e01ee0" stroke-width="1.5" />
<circle cx="95.03" cy="294.90" r="1.35" fill="#e01ee0"/>
<circle cx="93.89" cy="317.78" r="1.35" fill="#e01ee0"/>
<circle cx="94.71" cy="325.62" r="1.35" fill="#e01ee0"/>
<circle cx="99.28" cy="325.13" r="1.35" fill="#e01ee0"/>
<circle cx="97.16" cy="326.27" r="1.35" fill="#e01ee0"/>
<circle cx="90.62" cy="330.03" r="1.35" fill="#e01ee0"/>
<circle cx="92.75" cy="333.79" r="1.35" fill="#e01ee0"/>
<circle cx="96.34" cy="334.12" r="1.35" fill="#e01ee0"/>
<circle cx="102.88" cy="333.79" r="1.35" fill="#e01ee0"/>
<circle cx="85.72" cy="333.79" r="1.35" fill="#e01ee0"/>
<circle cx="88.99" cy="338.20" r="1.35" fill="#e01ee0"/>
<circle cx="99.28" cy="339.02" r="1.35" fill="#e01ee0"/>
<circle cx="86.54" cy="342.29" r="1.35" fill="#e01ee0"/>
<circle cx="93.89" cy="343.92" r="1.35" fill="#e01ee0"/>
<circle cx="90.13" cy="346.37" r="1.35" fill="#e01ee0"/>
<circle cx="99.28" cy="345.56" r="1.35" fill="#e01ee0"/>
<circle cx="100.92" cy="347.19" r="1.35" fill="#e01ee0"/>
<circle cx="91.44" cy="348.01" r="1.35" fill="#e01ee0"/>
<circle cx="88.17" cy="351.76" r="1.35" fill="#e01ee0"/>
<circle cx="95.52" cy="351.76" r="1.35" fill="#e01ee0"/>
<circle cx="100.42" cy="352.09" r="1.35" fill="#e01ee0"/>
<circle cx="93.07" cy="353.73" r="1.35" fill="#e01ee0"/>
<circle cx="95.52" cy="355.36" r="1.35" fill="#e01ee0"/>
<circle cx="91.76" cy="356.99" r="1.35" fill="#e01ee0"/>
<circle cx="96.01" cy="357.32" r="1.35" fill="#e01ee0"/>
<circle cx="96.34" cy="361.90" r="1.35" fill="#e01ee0"/>
<circle cx="93.89" cy="366.80" r="1.35" fill="#e01ee0"/>
<circle cx="95.03" cy="370.07" r="1.35" fill="#e01ee0"/>
<circle cx="104.51" cy="339.02" r="1.35" fill="#e01ee0"/>
<circle cx="86.54" cy="339.02" r="1.35" fill="#e01ee0"/>
<line x1="133.30" y1="343.40" x2="133.30" y2="329.70" stroke="#1fcc1f" stroke-width="0.9" />
<line x1="133.30" y1="353.40" x2="133.30" y2="361.90" stroke="#1fcc1f" stroke-width="0.9" />
<rect x="122.96" y="343.40" width="20.69" height="10.00" fill="none" stroke="#1fcc1f" stroke-width="0.9" />
<line x1="122.96" y1="348.80" x2="143.65" y2="348.80" stroke="#1fcc1f" stroke-width="1.5" />
<circle cx="133.01" cy="325.13" r="1.35" fill="#1fcc1f"/>
<circle cx="128.44" cy="328.73" r="1.35" fill="#1fcc1f"/>
<circle cx="133.67" cy="330.03" r="1.35" fill="#1fcc1f"/>
<circle cx="137.42" cy="329.71" r="1.35" fill="#1fcc1f"/>
<circle cx="132.03" cy="339.84" r="1.35" fill="#1fcc1f"/>
<circle cx="136.61" cy="341.96" r="1.35" fill="#1fcc1f"/>
<circle cx="126.48" cy="344.74" r="1.35" fill="#1fcc1f"/>
<circle cx="130.40" cy="345.56" r="1.35" fill="#1fcc1f"/>
<circle cx="134.97" cy="344.74" r="1.35" fill="#1fcc1f"/>
<circle cx="138.24" cy="346.37" r="1.35" fill="#1fcc1f"/>
<circle cx="124.35" cy="348.01" r="1.35" fill="#1fcc1f"/>
<circle cx="129.25" cy="349.15" r="1.35" fill="#1fcc1f"/>
<circle cx="134.16" cy="348.82" r="1.35" fill="#1fcc1f"/>
<circle cx="139.88" cy="348.50" r="1.35" fill="#1fcc1f"/>
<circle cx="126.80" cy="351.76" r="1.35" fill="#1fcc1f"/>
<circle cx="131.71" cy="352.09" r="1.35" fill="#1fcc1f"/>
<circle cx="136.28" cy="351.27" r="1.35" fill="#1fcc1f"/>
<circle cx="140.69" cy="351.76" r="1.35" fill="#1fcc1f"/>
<circle cx="125.99" cy="354.54" r="1.35" fill="#1fcc1f"/>
<circle cx="131.71" cy="355.36" r="1.35" fill="#1fcc1f"/>
<circle cx="137.42" cy="354.54" r="1.35" fill="#1fcc1f"/>
<circle cx="133.34" cy="358.63" r="1.35" fill="#1fcc1f"/>
<circle cx="130.89" cy="361.90" r="1.35" fill="#1fcc1f"/>
<circle cx="134.65" cy="361.90" r="1.35" fill="#1fcc1f"/>
<circle cx="132.52" cy="364.35" r="1.35" fill="#1fcc1f"/>
<circle cx="133.34" cy="366.80" r="1.35" fill="#1fcc1f"/>
<circle cx="128.44" cy="347.52" r="1.35" fill="#1fcc1f"/>
<line x1="160.90" y1="331.70" x2="160.90" y2="323.50" stroke="#e01ee0" stroke-width="0.9" />
<line x1="160.90" y1="351.30" x2="160.90" y2="361.10" stroke="#e01ee0" stroke-width="0.9" />
<rect x="150.55" y="331.70" width="20.69" height="19.60" fill="none" stroke="#e01ee0" stroke-width="0.9" />
<line x1="150.55" y1="343.60" x2="171.24" y2="343.60" stroke="#e01ee0" stroke-width="1.5" />
<circle cx="159.48" cy="301.11" r="1.35" fill="#e01ee0"/>
<circle cx="163.57" cy="322.35" r="1.35" fill="#e01ee0"/>
<circle cx="159.81" cy="323.99" r="1.35" fill="#e01ee0"/>
<circle cx="154.58" cy="330.03" r="1.35" fill="#e01ee0"/>
<circle cx="164.39" cy="329.54" r="1.35" fill="#e01ee0"/>
<circle cx="166.02" cy="330.52" r="1.35" fill="#e01ee0"/>
<circle cx="151.31" cy="333.30" r="1.35" fill="#e01ee0"/>
<circle cx="156.22" cy="332.81" r="1.35" fill="#e01ee0"/>
<circle cx="161.44" cy="332.16" r="1.35" fill="#e01ee0"/>
<circle cx="159.48" cy="337.71" r="1.35" fill="#e01ee0"/>
<circle cx="162.75" cy="340.33" r="1.35" fill="#e01ee0"/>
<circle cx="167.33" cy="336.57" r="1.35" fill="#e01ee0"/>
<circle cx="155.40" cy="347.19" r="1.35" fill="#e01ee0"/>
<circle cx="159.48" cy="348.50" r="1.35" fill="#e01ee0"/>
<circle cx="165.20" cy="347.52" r="1.35" fill="#e01ee0"/>
<circle cx="169.29" cy="348.82" r="1.35" fill="#e01ee0"/>
<circle cx="152.13" cy="349.15" r="1.35" fill="#e01ee0"/>
<circle cx="156.22" cy="356.18" r="1.35" fill="#e01ee0"/>
<circle cx="162.42" cy="355.03" r="1.35" fill="#e01ee0"/>
<circle cx="157.85" cy="361.08" r="1.35" fill="#e01ee0"/>
<circle cx="163.57" cy="360.59" r="1.35" fill="#e01ee0"/>
<line x1="198.85" y1="343.40" x2="198.85" y2="328.75" stroke="#1fcc1f" stroke-width="0.9" />
<line x1="198.85" y1="354.40" x2="198.85" y2="357.00" stroke="#1fcc1f" stroke-width="0.9" />
<rect x="188.51" y="343.40" width="20.69" height="11.00" fill="none" stroke="#1fcc1f" stroke-width="0.9" />
<line x1="188.51" y1="350.00" x2="209.20" y2="350.00" stroke="#1fcc1f" stroke-width="1.5" />
<circle cx="200.50" cy="328.50" r="1.35" fill="#1fcc1f"/>
<circle cx="197.62" cy="331.88" r="1.35" fill="#1fcc1f"/>
<circle cx="194.50" cy="336.00" r="1.35" fill="#1fcc1f"/>
<circle cx="199.50" cy="335.62" r="1.35" fill="#1fcc1f"/>
<circle cx="201.38" cy="339.38" r="1.35" fill="#1fcc1f"/>
<circle cx="192.00" cy="349.00" r="1.35" fill="#1fcc1f"/>
<circle cx="197.62" cy="347.50" r="1.35" fill="#1fcc1f"/>
<circle cx="202.00" cy="348.12" r="1.35" fill="#1fcc1f"/>
<circle cx="205.75" cy="349.00" r="1.35" fill="#1fcc1f"/>
<circle cx="189.50" cy="351.25" r="1.35" fill="#1fcc1f"/>
<circle cx="194.50" cy="350.00" r="1.35" fill="#1fcc1f"/>
<circle cx="200.12" cy="350.00" r="1.35" fill="#1fcc1f"/>
<circle cx="205.12" cy="350.62" r="1.35" fill="#1fcc1f"/>
<circle cx="190.75" cy="352.75" r="1.35" fill="#1fcc1f"/>
<circle cx="197.00" cy="353.75" r="1.35" fill="#1fcc1f"/>
<circle cx="205.75" cy="353.50" r="1.35" fill="#1fcc1f"/>
<circle cx="193.00" cy="356.25" r="1.35" fill="#1fcc1f"/>
<circle cx="195.75" cy="358.12" r="1.35" fill="#1fcc1f"/>
<circle cx="200.75" cy="356.25" r="1.35" fill="#1fcc1f"/>
<circle cx="202.25" cy="357.25" r="1.35" fill="#1fcc1f"/>
<circle cx="198.88" cy="379.00" r="1.35" fill="#1fcc1f"/>
<line x1="226.45" y1="342.50" x2="226.45" y2="336.00" stroke="#e01ee0" stroke-width="0.9" />
<line x1="226.45" y1="357.25" x2="226.45" y2="363.75" stroke="#e01ee0" stroke-width="0.9" />
<rect x="216.10" y="342.50" width="20.69" height="14.75" fill="none" stroke="#e01ee0" stroke-width="0.9" />
<line x1="216.10" y1="348.50" x2="236.79" y2="348.50" stroke="#e01ee0" stroke-width="1.5" />
<circle cx="222.62" cy="335.62" r="1.35" fill="#e01ee0"/>
<circle cx="230.75" cy="338.12" r="1.35" fill="#e01ee0"/>
<circle cx="222.62" cy="342.50" r="1.35" fill="#e01ee0"/>
<circle cx="227.62" cy="342.75" r="1.35" fill="#e01ee0"/>
<circle cx="217.00" cy="346.25" r="1.35" fill="#e01ee0"/>
<circle cx="234.50" cy="346.88" r="1.35" fill="#e01ee0"/>
<circle cx="224.50" cy="349.75" r="1.35" fill="#e01ee0"/>
<circle cx="220.12" cy="356.25" r="1.35" fill="#e01ee0"/>
<circle cx="228.50" cy="355.25" r="1.35" fill="#e01ee0"/>
<circle cx="230.75" cy="360.00" r="1.35" fill="#e01ee0"/>
<circle cx="221.75" cy="362.50" r="1.35" fill="#e01ee0"/>
<circle cx="226.38" cy="363.75" r="1.35" fill="#e01ee0"/>
<line x1="264.55" y1="350.60" x2="264.55" y2="345.40" stroke="#1fcc1f" stroke-width="0.9" />
<line x1="264.55" y1="358.75" x2="264.55" y2="359.40" stroke="#1fcc1f" stroke-width="0.9" />
<rect x="254.21" y="350.60" width="20.69" height="8.15" fill="none" stroke="#1fcc1f" stroke-width="0.9" />
<line x1="254.21" y1="353.10" x2="274.90" y2="353.10" stroke="#1fcc1f" stroke-width="1.5" />
<circle cx="269.88" cy="345.00" r="1.35" fill="#1fcc1f"/>
<circle cx="262.75" cy="348.75" r="1.35" fill="#1fcc1f"/>
<circle cx="257.00" cy="353.12" r="1.35" fill="#1fcc1f"/>
<circle cx="267.75" cy="352.25" r="1.35" fill="#1fcc1f"/>
<circle cx="269.50" cy="357.50" r="1.35" fill="#1fcc1f"/>
<circle cx="260.25" cy="359.75" r="1.35" fill="#1fcc1f"/>
<circle cx="264.50" cy="373.12" r="1.35" fill="#1fcc1f"/>
<line x1="292.15" y1="336.50" x2="292.15" y2="326.90" stroke="#e01ee0" stroke-width="0.9" />
<line x1="292.15" y1="358.10" x2="292.15" y2="361.50" stroke="#e01ee0" stroke-width="0.9" />
<rect x="281.80" y="336.50" width="20.69" height="21.60" fill="none" stroke="#e01ee0" stroke-width="0.9" />
<line x1="281.80" y1="348.10" x2="302.49" y2="348.10" stroke="#e01ee0" stroke-width="1.5" />
<circle cx="287.38" cy="326.50" r="1.35" fill="#e01ee0"/>
<circle cx="295.50" cy="339.62" r="1.35" fill="#e01ee0"/>
<circle cx="287.38" cy="356.50" r="1.35" fill="#e01ee0"/>
<circle cx="292.38" cy="361.88" r="1.35" fill="#e01ee0"/>
<rect x="57.31" y="458.00" width="20.69" height="0.00" fill="none" stroke="#1fcc1f" stroke-width="0.9" />
<line x1="57.31" y1="458.00" x2="78.00" y2="458.00" stroke="#1fcc1f" stroke-width="1.5" />
<circle cx="67.34" cy="458.02" r="1.35" fill="#1fcc1f"/>
<line x1="95.25" y1="443.30" x2="95.25" y2="439.30" stroke="#e01ee0" stroke-width="0.9" />
<rect x="84.90" y="443.30" width="20.69" height="4.45" fill="none" stroke="#e01ee0" stroke-width="0.9" />
<line x1="84.90" y1="447.20" x2="105.59" y2="447.20" stroke="#e01ee0" stroke-width="1.5" />
<circle cx="97.71" cy="438.97" r="1.35" fill="#e01ee0"/>
<circle cx="89.57" cy="447.43" r="1.35" fill="#e01ee0"/>
<circle cx="94.86" cy="448.07" r="1.35" fill="#e01ee0"/>
<rect x="122.96" y="458.10" width="20.69" height="5.90" fill="none" stroke="#1fcc1f" stroke-width="0.9" />
<line x1="122.96" y1="461.00" x2="143.65" y2="461.00" stroke="#1fcc1f" stroke-width="1.5" />
<circle cx="133.88" cy="445.38" r="1.35" fill="#1fcc1f"/>
<circle cx="128.25" cy="448.50" r="1.35" fill="#1fcc1f"/>
<circle cx="130.50" cy="458.12" r="1.35" fill="#1fcc1f"/>
<circle cx="141.38" cy="457.75" r="1.35" fill="#1fcc1f"/>
<circle cx="124.50" cy="461.88" r="1.35" fill="#1fcc1f"/>
<circle cx="135.75" cy="461.00" r="1.35" fill="#1fcc1f"/>
<circle cx="128.88" cy="465.25" r="1.35" fill="#1fcc1f"/>
<circle cx="138.25" cy="464.00" r="1.35" fill="#1fcc1f"/>
<circle cx="133.00" cy="474.75" r="1.35" fill="#1fcc1f"/>
<line x1="160.90" y1="444.00" x2="160.90" y2="425.60" stroke="#e01ee0" stroke-width="0.9" />
<line x1="160.90" y1="456.50" x2="160.90" y2="460.00" stroke="#e01ee0" stroke-width="0.9" />
<rect x="150.55" y="444.00" width="20.69" height="12.50" fill="none" stroke="#e01ee0" stroke-width="0.9" />
<line x1="150.55" y1="446.90" x2="171.24" y2="446.90" stroke="#e01ee0" stroke-width="1.5" />
<circle cx="159.25" cy="425.25" r="1.35" fill="#e01ee0"/>
<circle cx="161.38" cy="430.00" r="1.35" fill="#e01ee0"/>
<circle cx="152.00" cy="444.00" r="1.35" fill="#e01ee0"/>
<circle cx="168.25" cy="444.00" r="1.35" fill="#e01ee0"/>
<circle cx="157.00" cy="452.25" r="1.35" fill="#e01ee0"/>
<circle cx="158.25" cy="446.88" r="1.35" fill="#e01ee0"/>
<circle cx="163.25" cy="447.75" r="1.35" fill="#e01ee0"/>
<circle cx="156.00" cy="459.00" r="1.35" fill="#e01ee0"/>
<circle cx="160.50" cy="461.00" r="1.35" fill="#e01ee0"/>
<circle cx="165.12" cy="458.50" r="1.35" fill="#e01ee0"/>
<line x1="198.85" y1="452.30" x2="198.85" y2="441.90" stroke="#1fcc1f" stroke-width="0.9" />
<line x1="198.85" y1="460.60" x2="198.85" y2="467.30" stroke="#1fcc1f" stroke-width="0.9" />
<rect x="188.51" y="452.30" width="20.69" height="8.30" fill="none" stroke="#1fcc1f" stroke-width="0.9" />
<line x1="188.51" y1="459.20" x2="209.20" y2="459.20" stroke="#1fcc1f" stroke-width="1.5" />
<circle cx="195.61" cy="439.04" r="1.35" fill="#1fcc1f"/>
<circle cx="199.31" cy="437.08" r="1.35" fill="#1fcc1f"/>
<circle cx="201.38" cy="441.69" r="1.35" fill="#1fcc1f"/>
<circle cx="198.73" cy="448.27" r="1.35" fill="#1fcc1f"/>
<circle cx="194.69" cy="453.46" r="1.35" fill="#1fcc1f"/>
<circle cx="200.46" cy="452.08" r="1.35" fill="#1fcc1f"/>
<circle cx="203.35" cy="454.61" r="1.35" fill="#1fcc1f"/>
<circle cx="196.77" cy="454.38" r="1.35" fill="#1fcc1f"/>
<circle cx="190.08" cy="458.65" r="1.35" fill="#1fcc1f"/>
<circle cx="192.96" cy="460.96" r="1.35" fill="#1fcc1f"/>
<circle cx="195.85" cy="460.15" r="1.35" fill="#1fcc1f"/>
<circle cx="199.88" cy="459.23" r="1.35" fill="#1fcc1f"/>
<circle cx="202.54" cy="460.15" r="1.35" fill="#1fcc1f"/>
<circle cx="199.31" cy="464.42" r="1.35" fill="#1fcc1f"/>
<circle cx="196.42" cy="467.31" r="1.35" fill="#1fcc1f"/>
<circle cx="199.08" cy="467.54" r="1.35" fill="#1fcc1f"/>
<circle cx="207.38" cy="459.23" r="1.35" fill="#1fcc1f"/>
<line x1="226.45" y1="446.00" x2="226.45" y2="434.10" stroke="#e01ee0" stroke-width="0.9" />
<line x1="226.45" y1="459.50" x2="226.45" y2="469.00" stroke="#e01ee0" stroke-width="0.9" />
<rect x="216.10" y="446.00" width="20.69" height="13.50" fill="none" stroke="#e01ee0" stroke-width="0.9" />
<line x1="216.10" y1="456.30" x2="236.79" y2="456.30" stroke="#e01ee0" stroke-width="1.5" />
<circle cx="225.61" cy="434.08" r="1.35" fill="#e01ee0"/>
<circle cx="222.96" cy="444.00" r="1.35" fill="#e01ee0"/>
<circle cx="229.88" cy="443.08" r="1.35" fill="#e01ee0"/>
<circle cx="217.19" cy="445.61" r="1.35" fill="#e01ee0"/>
<circle cx="235.07" cy="446.77" r="1.35" fill="#e01ee0"/>
<circle cx="225.27" cy="447.69" r="1.35" fill="#e01ee0"/>
<circle cx="229.31" cy="447.69" r="1.35" fill="#e01ee0"/>
<circle cx="224.11" cy="451.15" r="1.35" fill="#e01ee0"/>
<circle cx="229.31" cy="454.04" r="1.35" fill="#e01ee0"/>
<circle cx="219.50" cy="455.19" r="1.35" fill="#e01ee0"/>
<circle cx="222.96" cy="457.50" r="1.35" fill="#e01ee0"/>
<circle cx="225.84" cy="456.92" r="1.35" fill="#e01ee0"/>
<circle cx="232.77" cy="456.69" r="1.35" fill="#e01ee0"/>
<circle cx="219.15" cy="460.38" r="1.35" fill="#e01ee0"/>
<circle cx="223.54" cy="459.81" r="1.35" fill="#e01ee0"/>
<circle cx="229.31" cy="459.81" r="1.35" fill="#e01ee0"/>
<circle cx="235.65" cy="459.23" r="1.35" fill="#e01ee0"/>
<circle cx="224.69" cy="466.15" r="1.35" fill="#e01ee0"/>
<circle cx="228.73" cy="465.00" r="1.35" fill="#e01ee0"/>
<circle cx="226.42" cy="469.04" r="1.35" fill="#e01ee0"/>
<line x1="264.55" y1="457.80" x2="264.55" y2="452.70" stroke="#1fcc1f" stroke-width="0.9" />
<line x1="264.55" y1="463.70" x2="264.55" y2="465.90" stroke="#1fcc1f" stroke-width="0.9" />
<rect x="254.21" y="457.80" width="20.69" height="5.90" fill="none" stroke="#1fcc1f" stroke-width="0.9" />
<line x1="254.21" y1="460.80" x2="274.90" y2="460.80" stroke="#1fcc1f" stroke-width="1.5" />
<circle cx="263.48" cy="434.92" r="1.35" fill="#1fcc1f"/>
<circle cx="266.17" cy="433.17" r="1.35" fill="#1fcc1f"/>
<circle cx="264.82" cy="452.69" r="1.35" fill="#1fcc1f"/>
<circle cx="262.13" cy="455.65" r="1.35" fill="#1fcc1f"/>
<circle cx="268.19" cy="457.80" r="1.35" fill="#1fcc1f"/>
<circle cx="258.09" cy="463.72" r="1.35" fill="#1fcc1f"/>
<circle cx="262.80" cy="466.14" r="1.35" fill="#1fcc1f"/>
<circle cx="267.52" cy="465.07" r="1.35" fill="#1fcc1f"/>
<circle cx="272.90" cy="462.11" r="1.35" fill="#1fcc1f"/>
<circle cx="256.08" cy="460.49" r="1.35" fill="#1fcc1f"/>
<circle cx="260.79" cy="460.49" r="1.35" fill="#1fcc1f"/>
<circle cx="265.50" cy="460.76" r="1.35" fill="#1fcc1f"/>
<circle cx="270.21" cy="461.03" r="1.35" fill="#1fcc1f"/>
<circle cx="264.82" cy="472.60" r="1.35" fill="#1fcc1f"/>
<line x1="292.15" y1="442.60" x2="292.15" y2="422.40" stroke="#e01ee0" stroke-width="0.9" />
<line x1="292.15" y1="462.10" x2="292.15" y2="483.00" stroke="#e01ee0" stroke-width="0.9" />
<rect x="281.80" y="442.60" width="20.69" height="19.50" fill="none" stroke="#e01ee0" stroke-width="0.9" />
<line x1="281.80" y1="454.40" x2="302.49" y2="454.40" stroke="#e01ee0" stroke-width="1.5" />
<circle cx="291.07" cy="422.40" r="1.35" fill="#e01ee0"/>
<circle cx="294.03" cy="431.42" r="1.35" fill="#e01ee0"/>
<circle cx="289.99" cy="435.86" r="1.35" fill="#e01ee0"/>
<circle cx="292.41" cy="436.80" r="1.35" fill="#e01ee0"/>
<circle cx="286.36" cy="441.24" r="1.35" fill="#e01ee0"/>
<circle cx="297.80" cy="442.59" r="1.35" fill="#e01ee0"/>
<circle cx="291.34" cy="445.69" r="1.35" fill="#e01ee0"/>
<circle cx="294.43" cy="447.57" r="1.35" fill="#e01ee0"/>
<circle cx="288.38" cy="450.26" r="1.35" fill="#e01ee0"/>
<circle cx="295.78" cy="452.01" r="1.35" fill="#e01ee0"/>
<circle cx="289.05" cy="456.99" r="1.35" fill="#e01ee0"/>
<circle cx="293.76" cy="459.41" r="1.35" fill="#e01ee0"/>
<circle cx="283.26" cy="461.43" r="1.35" fill="#e01ee0"/>
<circle cx="289.72" cy="462.11" r="1.35" fill="#e01ee0"/>
<circle cx="300.49" cy="461.84" r="1.35" fill="#e01ee0"/>
<circle cx="285.01" cy="465.07" r="1.35" fill="#e01ee0"/>
<circle cx="295.78" cy="466.14" r="1.35" fill="#e01ee0"/>
<circle cx="290.80" cy="472.20" r="1.35" fill="#e01ee0"/>
<circle cx="292.41" cy="482.97" r="1.35" fill="#e01ee0"/>
<path d="M67.10,309.70V306.40H95.50V309.70" fill="none" stroke="#222" stroke-width="0.85"/>
<text x="81.30" y="305.30" font-size="9.6" text-anchor="middle" fill="#000" font-weight="normal" >*</text>
<path d="M133.75,410.80V407.50H160.75V410.80" fill="none" stroke="#222" stroke-width="0.85"/>
<text x="147.25" y="406.40" font-size="9.6" text-anchor="middle" fill="#000" font-weight="normal" >*</text>
<line x1="433.50" y1="388.60" x2="583.00" y2="388.60" stroke="#6a6a6a" stroke-width="0.9" stroke-dasharray="2.3,1.8"/>
<line x1="473.85" y1="341.10" x2="473.85" y2="321.00" stroke="#5a5a5a" stroke-width="1.25" />
<line x1="473.85" y1="390.00" x2="473.85" y2="453.90" stroke="#5a5a5a" stroke-width="1.25" />
<rect x="448.10" y="341.10" width="51.50" height="48.90" fill="#fff" stroke="#5a5a5a" stroke-width="1.25" />
<line x1="448.10" y1="373.10" x2="499.60" y2="373.10" stroke="#5a5a5a" stroke-width="2.1" />
<line x1="542.40" y1="369.80" x2="542.40" y2="309.40" stroke="#5a5a5a" stroke-width="1.25" />
<line x1="542.40" y1="410.10" x2="542.40" y2="439.90" stroke="#5a5a5a" stroke-width="1.25" />
<rect x="516.00" y="369.80" width="52.80" height="40.30" fill="#fff" stroke="#5a5a5a" stroke-width="1.25" />
<line x1="516.00" y1="401.20" x2="568.80" y2="401.20" stroke="#5a5a5a" stroke-width="2.1" />
<circle cx="461.34" cy="323.03" r="1.3" fill="#f0b000"/>
<circle cx="468.03" cy="322.11" r="1.3" fill="#ff5000"/>
<circle cx="480.60" cy="320.96" r="1.3" fill="#ff5000"/>
<circle cx="486.71" cy="325.22" r="1.3" fill="#f0b000"/>
<circle cx="457.07" cy="330.99" r="1.3" fill="#ff5000"/>
<circle cx="465.14" cy="332.49" r="1.3" fill="#14b4c8"/>
<circle cx="472.06" cy="332.49" r="1.3" fill="#f0b000"/>
<circle cx="475.18" cy="330.18" r="1.3" fill="#ff5000"/>
<circle cx="478.99" cy="334.80" r="1.3" fill="#f0b000"/>
<circle cx="489.83" cy="336.76" r="1.3" fill="#ff5000"/>
<circle cx="472.06" cy="340.22" r="1.3" fill="#ff5000"/>
<circle cx="470.22" cy="341.14" r="1.3" fill="#8a3fb8"/>
<circle cx="479.79" cy="341.14" r="1.3" fill="#ff5000"/>
<circle cx="467.34" cy="353.83" r="1.3" fill="#f0b000"/>
<circle cx="467.34" cy="356.37" r="1.3" fill="#ff5000"/>
<circle cx="480.60" cy="354.98" r="1.3" fill="#f0b000"/>
<circle cx="480.60" cy="356.71" r="1.3" fill="#ff5000"/>
<circle cx="467.68" cy="369.40" r="1.3" fill="#f0b000"/>
<circle cx="478.29" cy="369.75" r="1.3" fill="#8a3fb8"/>
<circle cx="490.98" cy="368.82" r="1.3" fill="#14b4c8"/>
<circle cx="450.38" cy="371.69" r="1.3" fill="#ff5000"/>
<circle cx="463.99" cy="371.34" r="1.3" fill="#ff5000"/>
<circle cx="467.91" cy="369.84" r="1.3" fill="#f0b000"/>
<circle cx="467.10" cy="374.00" r="1.3" fill="#ff5000"/>
<circle cx="476.68" cy="371.69" r="1.3" fill="#ff5000"/>
<circle cx="478.29" cy="370.54" r="1.3" fill="#8a3fb8"/>
<circle cx="475.99" cy="373.07" r="1.3" fill="#f0b000"/>
<circle cx="494.44" cy="372.84" r="1.3" fill="#ff5000"/>
<circle cx="480.37" cy="375.38" r="1.3" fill="#ff5000"/>
<circle cx="467.10" cy="376.30" r="1.3" fill="#14b4c8"/>
<circle cx="480.37" cy="377.92" r="1.3" fill="#14b4c8"/>
<circle cx="453.26" cy="378.61" r="1.3" fill="#f0b000"/>
<circle cx="460.18" cy="377.69" r="1.3" fill="#8a3fb8"/>
<circle cx="492.48" cy="380.57" r="1.3" fill="#f0b000"/>
<circle cx="463.64" cy="383.22" r="1.3" fill="#ff5000"/>
<circle cx="467.10" cy="385.99" r="1.3" fill="#f0b000"/>
<circle cx="454.07" cy="390.14" r="1.3" fill="#f0b000"/>
<circle cx="480.60" cy="388.64" r="1.3" fill="#f0b000"/>
<circle cx="487.29" cy="390.14" r="1.3" fill="#8a3fb8"/>
<circle cx="460.53" cy="392.10" r="1.3" fill="#8a3fb8"/>
<circle cx="463.30" cy="394.76" r="1.3" fill="#f0b000"/>
<circle cx="463.07" cy="396.72" r="1.3" fill="#14b4c8"/>
<circle cx="469.07" cy="396.37" r="1.3" fill="#ff5000"/>
<circle cx="478.99" cy="394.41" r="1.3" fill="#ff5000"/>
<circle cx="485.21" cy="393.60" r="1.3" fill="#f0b000"/>
<circle cx="473.68" cy="408.60" r="1.3" fill="#ff5000"/>
<circle cx="485.21" cy="410.91" r="1.3" fill="#14b4c8"/>
<circle cx="460.99" cy="419.21" r="1.3" fill="#14b4c8"/>
<circle cx="473.68" cy="422.44" r="1.3" fill="#14b4c8"/>
<circle cx="473.84" cy="431.39" r="1.3" fill="#8a3fb8"/>
<circle cx="473.84" cy="453.91" r="1.3" fill="#f0b000"/>
<circle cx="546.34" cy="309.42" r="1.3" fill="#ff5000"/>
<circle cx="538.26" cy="317.23" r="1.3" fill="#ff5000"/>
<circle cx="542.97" cy="328.26" r="1.3" fill="#ff5000"/>
<circle cx="535.84" cy="336.61" r="1.3" fill="#f0b000"/>
<circle cx="536.24" cy="338.76" r="1.3" fill="#ff5000"/>
<circle cx="548.36" cy="357.87" r="1.3" fill="#f0b000"/>
<circle cx="563.16" cy="360.97" r="1.3" fill="#ff5000"/>
<circle cx="525.88" cy="363.66" r="1.3" fill="#ff5000"/>
<circle cx="538.94" cy="362.99" r="1.3" fill="#ff5000"/>
<circle cx="552.40" cy="363.53" r="1.3" fill="#ff5000"/>
<circle cx="535.85" cy="367.31" r="1.3" fill="#14b4c8"/>
<circle cx="558.92" cy="367.77" r="1.3" fill="#ff5000"/>
<circle cx="533.85" cy="371.46" r="1.3" fill="#ff5000"/>
<circle cx="540.46" cy="369.92" r="1.3" fill="#8a3fb8"/>
<circle cx="545.08" cy="371.46" r="1.3" fill="#ff5000"/>
<circle cx="541.54" cy="375.00" r="1.3" fill="#f0b000"/>
<circle cx="544.15" cy="383.77" r="1.3" fill="#8a3fb8"/>
<circle cx="548.15" cy="384.23" r="1.3" fill="#14b4c8"/>
<circle cx="545.08" cy="388.38" r="1.3" fill="#f0b000"/>
<circle cx="525.38" cy="399.15" r="1.3" fill="#8a3fb8"/>
<circle cx="527.69" cy="398.08" r="1.3" fill="#ff5000"/>
<circle cx="529.23" cy="399.15" r="1.3" fill="#f0b000"/>
<circle cx="555.85" cy="399.15" r="1.3" fill="#ff5000"/>
<circle cx="556.15" cy="401.15" r="1.3" fill="#8a3fb8"/>
<circle cx="528.77" cy="402.23" r="1.3" fill="#8a3fb8"/>
<circle cx="533.38" cy="401.92" r="1.3" fill="#f0b000"/>
<circle cx="537.69" cy="401.15" r="1.3" fill="#ff5000"/>
<circle cx="540.00" cy="402.23" r="1.3" fill="#14b4c8"/>
<circle cx="542.31" cy="405.31" r="1.3" fill="#8a3fb8"/>
<circle cx="546.15" cy="404.23" r="1.3" fill="#f0b000"/>
<circle cx="546.92" cy="404.69" r="1.3" fill="#ff5000"/>
<circle cx="548.15" cy="406.54" r="1.3" fill="#14b4c8"/>
<circle cx="522.31" cy="408.08" r="1.3" fill="#14b4c8"/>
<circle cx="521.08" cy="409.92" r="1.3" fill="#f0b000"/>
<circle cx="529.69" cy="410.38" r="1.3" fill="#14b4c8"/>
<circle cx="555.85" cy="409.62" r="1.3" fill="#14b4c8"/>
<circle cx="562.31" cy="411.15" r="1.3" fill="#f0b000"/>
<circle cx="535.38" cy="413.00" r="1.3" fill="#f0b000"/>
<circle cx="532.31" cy="415.77" r="1.3" fill="#ff5000"/>
<circle cx="542.31" cy="413.92" r="1.3" fill="#14b4c8"/>
<circle cx="548.77" cy="415.00" r="1.3" fill="#f0b000"/>
<circle cx="526.62" cy="417.62" r="1.3" fill="#f0b000"/>
<circle cx="549.23" cy="419.15" r="1.3" fill="#ff5000"/>
<circle cx="548.46" cy="422.23" r="1.3" fill="#f0b000"/>
<circle cx="536.46" cy="426.23" r="1.3" fill="#ff5000"/>
<circle cx="538.46" cy="430.85" r="1.3" fill="#f0b000"/>
<circle cx="542.31" cy="433.92" r="1.3" fill="#ff5000"/>
<circle cx="542.31" cy="439.92" r="1.3" fill="#f0b000"/>
<line x1="433.00" y1="295.00" x2="433.00" y2="461.20" stroke="#000" stroke-width="1.25" />
<line x1="433.00" y1="461.20" x2="583.00" y2="461.20" stroke="#000" stroke-width="1.25" />
<line x1="430.50" y1="336.00" x2="433.00" y2="336.00" stroke="#333" stroke-width="0.9" />
<text x="428.80" y="338.80" font-size="7.7" text-anchor="end" fill="#333" font-weight="normal" >1</text>
<line x1="430.50" y1="388.60" x2="433.00" y2="388.60" stroke="#333" stroke-width="0.9" />
<text x="428.80" y="391.40" font-size="7.7" text-anchor="end" fill="#333" font-weight="normal" >0</text>
<line x1="430.50" y1="441.60" x2="433.00" y2="441.60" stroke="#333" stroke-width="0.9" />
<text x="428.80" y="444.40" font-size="7.7" text-anchor="end" fill="#333" font-weight="normal" >−1</text>
<line x1="473.80" y1="461.20" x2="473.80" y2="463.30" stroke="#333" stroke-width="0.9" />
<text x="473.80" y="471.90" font-size="8.6" text-anchor="middle" fill="#000" font-weight="normal" >Before</text>
<line x1="542.50" y1="461.20" x2="542.50" y2="463.30" stroke="#333" stroke-width="0.9" />
<text x="542.50" y="471.90" font-size="8.6" text-anchor="middle" fill="#000" font-weight="normal" >After</text>
<text x="508.20" y="482.30" font-size="8.7" text-anchor="middle" fill="#000" font-weight="normal" >1st vaccination</text>
<text x="414.90" y="377.50" font-size="8.8" text-anchor="middle" fill="#000" font-weight="normal" transform="rotate(-90 414.90 377.50)" >Log10(Anti−RBD IgG/Anti−Spike IgG)</text>
<path d="M473.8,306.3V302.1H542.5V306.3" fill="none" stroke="#222" stroke-width="0.9"/>
<text x="508.20" y="300.60" font-size="9.5" text-anchor="middle" fill="#000" font-weight="normal" >***</text>
<circle cx="602.90" cy="361.10" r="1.25" fill="#14b4c8"/>
<text x="614.00" y="363.80" font-size="7.4" text-anchor="start" fill="#000" font-weight="normal" >Asymptomatic</text>
<circle cx="602.90" cy="373.80" r="1.25" fill="#f0b000"/>
<text x="614.00" y="376.50" font-size="7.4" text-anchor="start" fill="#000" font-weight="normal" >Mild</text>
<circle cx="602.90" cy="386.50" r="1.25" fill="#ff5000"/>
<text x="614.00" y="389.20" font-size="7.4" text-anchor="start" fill="#000" font-weight="normal" >Severe</text>
<circle cx="602.90" cy="399.20" r="1.25" fill="#8a3fb8"/>
<text x="614.00" y="401.90" font-size="7.4" text-anchor="start" fill="#000" font-weight="normal" >Critical</text>
<text x="1.30" y="11.70" font-size="16.5" text-anchor="start" fill="#000" font-weight="bold" >a</text>
<text x="354.90" y="11.80" font-size="16.5" text-anchor="start" fill="#000" font-weight="bold" >b</text>
<text x="0.20" y="277.20" font-size="16.5" text-anchor="start" fill="#000" font-weight="bold" >c</text>
<text x="353.80" y="277.30" font-size="16.5" text-anchor="start" fill="#000" font-weight="bold" >d</text>
</svg></body></html>
